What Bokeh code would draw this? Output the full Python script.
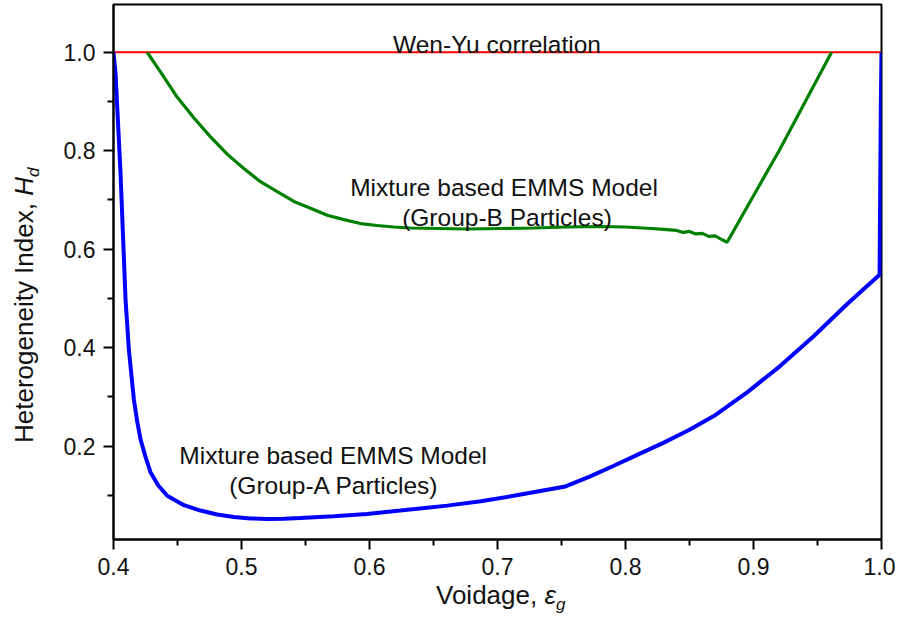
from bokeh.plotting import figure
from bokeh.models import FixedTicker, PrintfTickFormatter, Label, Range1d, Div
from bokeh.layouts import row, column
from bokeh.embed import file_html
from bokeh.resources import INLINE

# ---- data ----
wenyu_x = [0.4, 1.0]
wenyu_y = [1.0, 1.0]

groupB_x = [0.4263, 0.438, 0.4497, 0.4627, 0.4758, 0.4888, 0.5018, 0.5148, 0.5279,
            0.5409, 0.5539, 0.567, 0.58, 0.593, 0.606, 0.619, 0.632, 0.654, 0.676,
            0.702, 0.728, 0.754, 0.78, 0.80, 0.82, 0.83, 0.84, 0.845, 0.85, 0.855,
            0.86, 0.865, 0.87, 0.875, 0.8794, 0.92, 0.961]
groupB_y = [1.0, 0.955, 0.909, 0.867, 0.828, 0.793, 0.764, 0.737, 0.717,
            0.697, 0.683, 0.669, 0.660, 0.652, 0.648, 0.645, 0.643, 0.642, 0.641,
            0.642, 0.643, 0.645, 0.646, 0.645, 0.642, 0.640, 0.638, 0.634, 0.636, 0.631,
            0.632, 0.626, 0.627, 0.620, 0.614, 0.80, 1.0]

groupA_x = [0.4, 0.4016, 0.4055, 0.4094, 0.412, 0.4159, 0.4185, 0.4211, 0.425, 0.4289,
            0.435, 0.442, 0.455, 0.468, 0.481, 0.494, 0.507, 0.52, 0.533, 0.546,
            0.572, 0.598, 0.624, 0.6607, 0.687, 0.7127, 0.7531, 0.772, 0.7909, 0.81,
            0.8299, 0.85, 0.869, 0.895, 0.921, 0.947, 0.973, 0.9985, 0.9995, 1.0]
groupA_y = [1.0, 0.957, 0.754, 0.498, 0.396, 0.295, 0.250, 0.214, 0.178, 0.147,
            0.120, 0.099, 0.080, 0.069, 0.061, 0.056, 0.053, 0.052, 0.0525, 0.054,
            0.0575, 0.062, 0.069, 0.079, 0.088, 0.099, 0.118, 0.138, 0.160, 0.183,
            0.207, 0.233, 0.261, 0.309, 0.363, 0.423, 0.488, 0.548, 0.9, 1.0]

x_ticks = [0.4, 0.5, 0.6, 0.7, 0.8, 0.9, 1.0]
x_minor = [0.45, 0.55, 0.65, 0.75, 0.85, 0.95]
y_ticks = [0.2, 0.4, 0.6, 0.8, 1.0]
y_minor = [0.1, 0.3, 0.5, 0.7, 0.9]

FONT = "Liberation Sans"
TXT = "#111111"

p = figure(width=855, height=579, output_backend="svg", toolbar_location=None,
           x_range=Range1d(0.4, 1.0), y_range=Range1d(0.0102, 1.097),
           min_border_left=73, min_border_right=14, min_border_top=4,
           min_border_bottom=40, margin=0)
p.grid.visible = False
p.outline_line_color = "black"
p.outline_line_width = 2
p.background_fill_color = "white"
p.border_fill_color = "white"

for ax, tk, mn in ((p.xaxis[0], x_ticks, x_minor), (p.yaxis[0], y_ticks, y_minor)):
    ax.ticker = FixedTicker(ticks=tk, minor_ticks=mn)
    ax.formatter = PrintfTickFormatter(format="%.1f")
    ax.axis_line_color = "black"
    ax.axis_line_width = 2
    ax.major_tick_line_color = "black"
    ax.major_tick_line_width = 2
    ax.minor_tick_line_color = "black"
    ax.minor_tick_line_width = 2
    ax.major_tick_out = 10
    ax.major_tick_in = 0
    ax.minor_tick_out = 6
    ax.minor_tick_in = 0
    ax.major_label_text_font = FONT
    ax.major_label_text_font_size = "23px"
    ax.major_label_text_color = TXT
    ax.major_label_standoff = 8

p.line(wenyu_x, wenyu_y, line_color="#ff0000", line_width=2)
p.line(groupB_x, groupB_y, line_color="#008000", line_width=3.2)
p.line(groupA_x, groupA_y, line_color="#0000ff", line_width=4)

ann = dict(text_font=FONT, text_font_size="24.5px", text_color=TXT,
           text_align="center", text_baseline="alphabetic")
p.add_layout(Label(x=0.6996, y=1.0165, text="Wen-Yu correlation", **ann))
p.add_layout(Label(x=0.7051, y=0.7253, text="Mixture based EMMS Model", **ann))
p.add_layout(Label(x=0.7074, y=0.6644, text="(Group-B Particles)", **ann))
p.add_layout(Label(x=0.5716, y=0.1811, text="Mixture based EMMS Model", **ann))
p.add_layout(Label(x=0.5723, y=0.1202, text="(Group-A Particles)", **ann))

# axis titles (italic symbol + subscript) as real HTML text
base = (f"font-family:'{FONT}'; font-size:26px; line-height:26px; color:{TXT}; "
        "white-space:nowrap;")
sub = "font-size:17px; position:relative; top:6px; font-style:italic;"

ytitle = Div(width=40, height=579, margin=0, text=(
    '<div style="position:relative; width:40px; height:579px;">'
    f'<div style="position:absolute; left:11px; top:443px; transform:rotate(-90deg); '
    f'transform-origin:left top; {base}">Heterogeneity Index, <i>H</i>'
    f'<span style="{sub}">d</span></div></div>'))

xtitle = Div(width=895, height=43, margin=0, text=(
    '<div style="position:relative; width:895px; height:43px;">'
    f'<div style="position:absolute; left:436px; top:3px; {base}">Voidage, <i>ε</i>'
    f'<span style="{sub}">g</span></div></div>'))

layout = column(row(ytitle, p, margin=0, spacing=0), xtitle, margin=0, spacing=0)

open("out.html", "w").write(file_html(layout, INLINE))
